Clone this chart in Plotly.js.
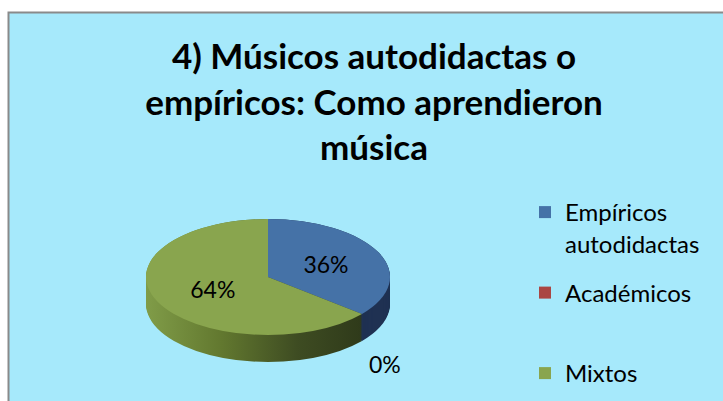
<!DOCTYPE html>
<html><head><meta charset="utf-8">
<script src="https://cdn.plot.ly/plotly-3.0.1.min.js"></script>
<style>html,body{margin:0;padding:0;background:#fff;overflow:hidden}#chart{width:723px;height:401px}</style>
</head><body><div id="chart"></div>
<script>
// ---- data ----
const categories = ['Empíricos<br>autodidactas', 'Académicos', 'Mixtos'];
const values = [36, 0, 64];
const titleText = '4) Músicos autodidactas o<br>empíricos: Como aprendieron<br>música';

// ---- styles ----
const topColors = ['#4572A7', '#AA4643', '#89A54E'];
const sideColors = ['#1F3152', '#5A2524', '#55692C'];
const W = 723, H = 401;
const SQUASH = 0.475;   // vertical flattening of the pie (3D tilt)
const DEPTH = 27;       // thickness of the pie side in px
const OUTSIDE_DROP = 47; // outside labels sit below the side of the pie
const LEGEND_STEP = 80.5;
const FONT = 'Lato, "Open Sans", sans-serif';

const domain = {x: [146 / W, 390 / W], y: [2 / H, 246 / H]};

const rim = {
  type: 'pie', labels: categories, values: values, sort: false,
  direction: 'clockwise', rotation: 0, domain: domain,
  marker: {colors: sideColors, line: {width: 0}},
  textinfo: 'none', hoverinfo: 'skip', showlegend: false
};
const top_ = {
  type: 'pie', labels: categories, values: values, sort: false,
  direction: 'clockwise', rotation: 0, domain: domain,
  marker: {colors: topColors, line: {width: 0}},
  textinfo: 'percent', textposition: ['inside', 'outside', 'inside'],
  insidetextorientation: 'horizontal',
  textfont: {family: FONT, size: 23, color: '#000'},
  hoverinfo: 'label+percent'
};

const layout = {
  width: W, height: H,
  margin: {l: 0, r: 0, t: 0, b: 0},
  paper_bgcolor: '#ffffff',
  showlegend: true,
  title: {
    text: titleText,
    font: {family: FONT, size: 35, color: '#000', weight: 'bold'},
    x: 374 / W, xanchor: 'center', y: 1 - 69 / H, yanchor: 'top'
  },
  legend: {
    x: 525 / W, xanchor: 'left', y: 1 - 190 / H, yanchor: 'top',
    valign: 'top', bgcolor: 'rgba(0,0,0,0)',
    font: {family: FONT, size: 24, color: '#000'}
  },
  shapes: [{
    type: 'rect', xref: 'paper', yref: 'paper', layer: 'below',
    x0: 8.5 / W, x1: 1.02, y0: -0.02, y1: 1 - 12.5 / H,
    fillcolor: '#A6E9FB', line: {color: '#8A8A8A', width: 2}
  }]
};

Plotly.newPlot('chart', [rim, top_], layout, {displayModeBar: false}).then(gd => {
  const cd0 = gd.calcdata[1][0];
  const cx = cd0.cx, cy = cd0.cy;
  const sq = `translate(${cx},${cy}) scale(1,${SQUASH}) translate(${-cx},${-cy})`;
  const traces = gd.querySelectorAll('.pielayer .trace');
  const rimG = traces[0], topG = traces[1];

  // gradient for the green side
  const svgNS = 'http://www.w3.org/2000/svg';
  const defs = gd.querySelector('defs');
  const grad = document.createElementNS(svgNS, 'linearGradient');
  grad.setAttribute('id', 'gside');
  grad.setAttribute('x1', '0'); grad.setAttribute('x2', '1');
  grad.setAttribute('y1', '0'); grad.setAttribute('y2', '0');
  [['0', '#809C48'], ['0.35', '#62782F'], ['0.7', '#3E4C22'], ['1', '#2F3A1A']].forEach(([o, c]) => {
    const s = document.createElementNS(svgNS, 'stop');
    s.setAttribute('offset', o); s.setAttribute('stop-color', c);
    grad.appendChild(s);
  });
  defs.appendChild(grad);
  rimG.querySelectorAll('g.slice').forEach(g => {
    if (g.__data__ && g.__data__.i === 2) {
      const p = g.querySelector('path.surface');
      if (p) p.style.fill = 'url(#gside)';
    }
  });

  // stack copies of the rim to make the side of the pie
  for (let d = DEPTH; d >= 1; d--) {
    const c = rimG.cloneNode(true);
    c.setAttribute('transform', `translate(0,${d}) ` + sq);
    rimG.parentNode.insertBefore(c, topG);
  }
  rimG.setAttribute('transform', sq);
  topG.setAttribute('transform', sq);

  // un-squash the labels
  const r = cd0.r;
  topG.querySelectorAll('g.slicetext').forEach(g => {
    const bb = g.getBBox();
    const bx = bb.x + bb.width / 2, by = bb.y + bb.height / 2;
    const dist = Math.hypot(bx - cx, by - cy);
    const off = dist > r ? OUTSIDE_DROP : 0;
    g.setAttribute('transform',
      `translate(${bx},${by + off / SQUASH}) scale(1,${1 / SQUASH}) translate(${-bx},${-by})`);
  });
  topG.querySelectorAll('path.textline').forEach(p => p.remove());

  // spread legend entries like the original
  gd.querySelectorAll('.legend [clip-path]').forEach(e => e.removeAttribute('clip-path'));
  const items = gd.querySelectorAll('.legend .traces');
  if (items.length) {
    const centers = Array.from(items).map(it => {
      const sym = it.querySelector('.legendpoints path') || it;
      const b = sym.getBoundingClientRect();
      return b.top + b.height / 2;
    });
    items.forEach((it, i) => {
      const t = it.getAttribute('transform') || '';
      const m = t.match(/translate\(([-\d.e]+)[ ,]+([-\d.e]+)\)/);
      if (!m) return;
      const x = parseFloat(m[1]), y = parseFloat(m[2]);
      const target = centers[0] + i * LEGEND_STEP;
      it.setAttribute('transform', `translate(${x},${y + (target - centers[i])})`);
    });
  }
});
</script>
</body></html>
